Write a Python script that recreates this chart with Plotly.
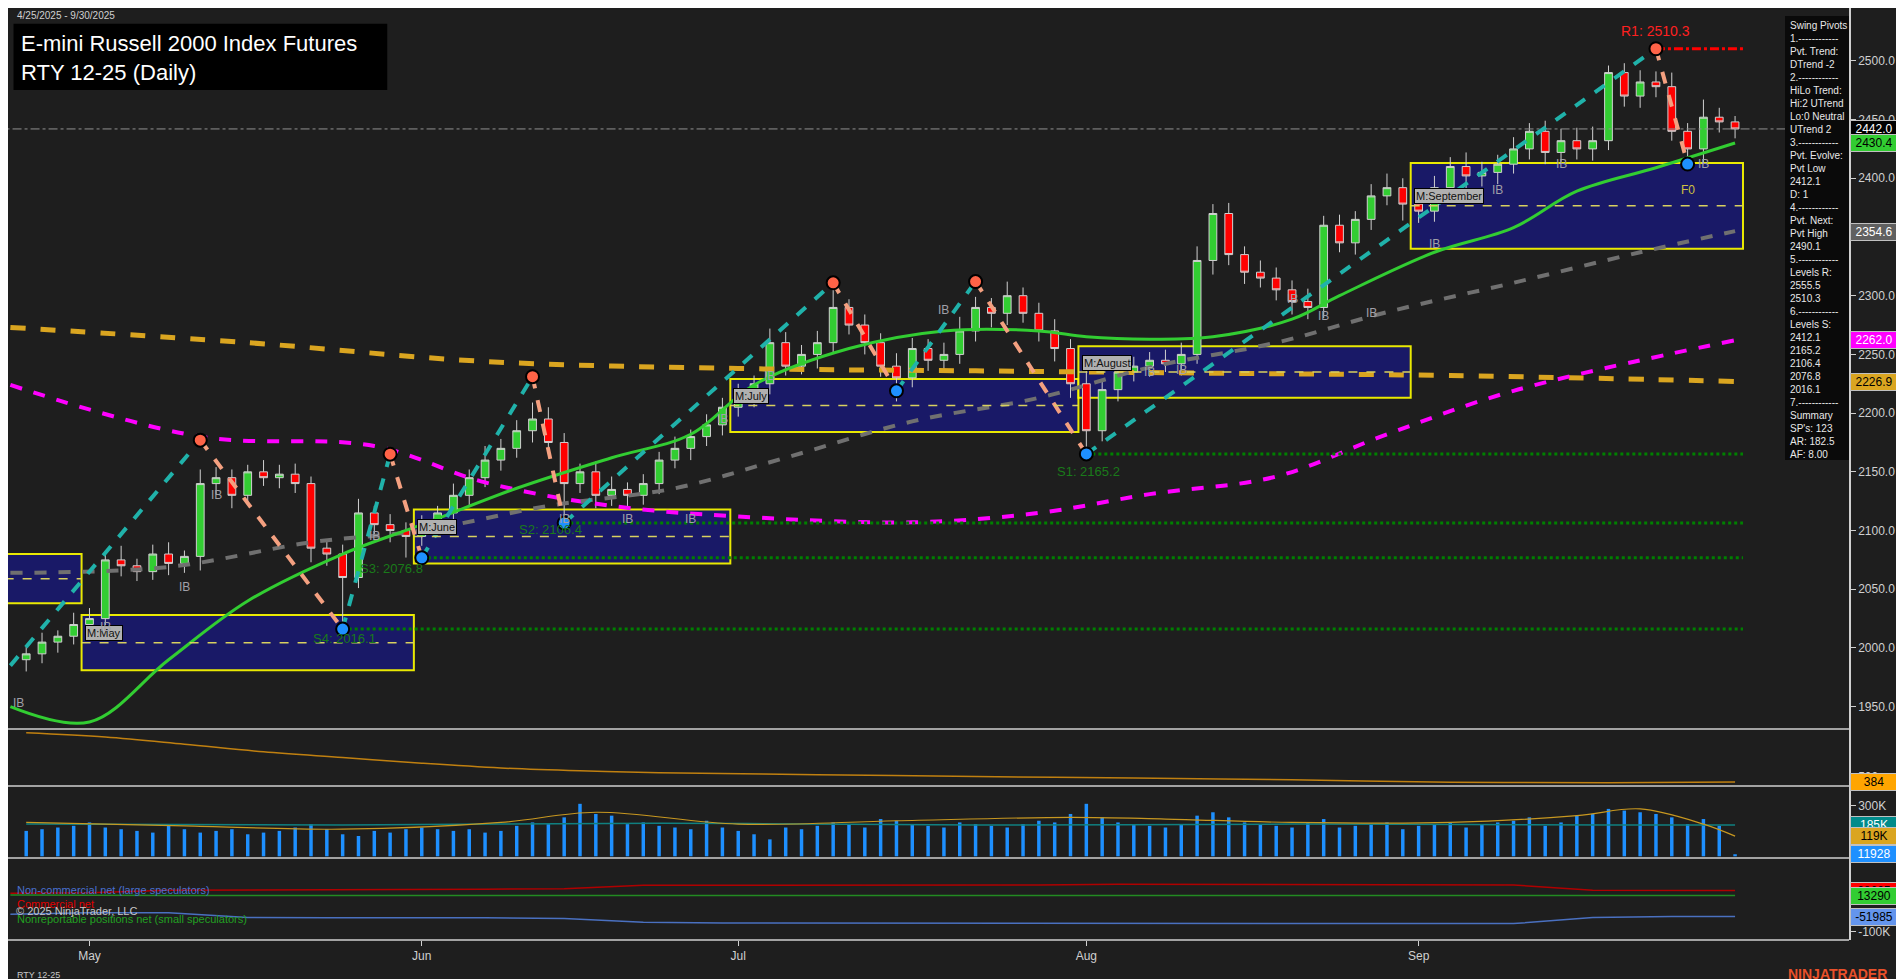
import plotly.graph_objects as go

months = ["Apr"]*4 + ["May"]*21 + ["Jun"]*20 + ["Jul"]*22 + ["Aug"]*21 + ["Sep"]*21
closes = [1995, 2005, 2010, 2020,
          2025, 2075, 2070, 2065, 2080, 2072, 2078, 2140, 2145, 2130, 2150, 2145, 2148, 2140, 2085, 2080, 2060, 2115, 2105, 2100, 2095,
          2105, 2115, 2130, 2145, 2160, 2170, 2185, 2195, 2175, 2140, 2150, 2130, 2135, 2130, 2140, 2160, 2170, 2180, 2190, 2205,
          2215, 2225, 2260, 2240, 2250, 2260, 2290, 2275, 2260, 2240, 2230, 2255, 2245, 2250, 2270, 2290, 2285, 2300, 2285, 2270, 2255, 2225,
          2185, 2220, 2235, 2240, 2245, 2242, 2250, 2330, 2370, 2335, 2320, 2315, 2305, 2295, 2290, 2360, 2345, 2365, 2385, 2392, 2378,
          2372, 2392, 2410, 2402, 2405, 2412, 2425, 2440, 2422, 2432, 2425, 2432, 2490, 2470, 2482, 2478, 2440, 2425, 2452, 2448, 2442]
wick_up = [6, 8, 5, 10, 9, 7, 12, 6, 8, 10, 5, 12, 9, 7, 6, 10, 8, 9, 6, 7, 8, 12, 6, 9, 7,
           8, 6, 10, 7, 12, 8, 9, 14, 10, 8, 7, 9, 11, 6, 8, 7, 10, 6, 9, 8,
           10, 7, 12, 9, 8, 10, 18, 7, 9, 8, 11, 9, 8, 10, 12, 9, 8, 12, 7, 9, 10, 8,
           12, 9, 10, 8, 7, 9, 10, 12, 8, 9, 7, 10, 9, 8, 11, 8, 9, 7, 10, 12, 8,
           9, 10, 8, 12, 9, 8, 10, 7, 9, 10, 11, 12, 6, 8, 10, 9, 12, 7, 15, 8, 5]
wick_dn = [10, 8, 9, 7, 12, 6, 9, 8, 7, 10, 8, 12, 9, 11, 8, 7, 9, 8, 12, 10, 44, 9, 8, 10, 18,
           8, 9, 7, 10, 8, 9, 8, 10, 9, 34, 8, 11, 9, 10, 8, 9, 7, 10, 8, 9,
           8, 10, 9, 8, 7, 12, 9, 8, 10, 9, 20, 8, 9, 10, 8, 9, 12, 10, 8, 9, 11, 12,
           20, 9, 10, 8, 9, 7, 10, 8, 12, 9, 10, 8, 9, 11, 10, 9, 8, 10, 9, 8, 14,
           10, 9, 8, 11, 9, 10, 8, 9, 10, 8, 9, 10, 8, 9, 10, 9, 8, 12, 13, 9, 8]
opens = [1990] + closes[:-1]
highs = [max(o, c) + w for o, c, w in zip(opens, closes, wick_up)]
lows = [min(o, c) - w for o, c, w in zip(opens, closes, wick_dn)]
idx = list(range(len(closes)))

ema_fast = [(-1, 1950), (4, 1937), (9, 1990), (14, 2040), (20, 2080), (25, 2105), (31, 2136), (37, 2162), (42, 2182), (46, 2224),
            (52, 2255), (58, 2270), (64, 2270), (67, 2265), (71, 2263), (75, 2265), (80, 2280), (83, 2300), (89, 2337), (94, 2358), (98, 2389), (103, 2409), (108, 2430)]
ma_grey = [(-1, 2064), (9, 2069), (18, 2090), (25, 2100), (33, 2121), (41, 2136), (48, 2162), (56, 2193), (64, 2213), (71, 2239), (79, 2260), (86, 2286), (94, 2311), (102, 2337), (108, 2355)]
ma_mag = [(-1, 2224), (11, 2180), (22, 2172), (29, 2141), (37, 2121), (45, 2112), (56, 2107), (64, 2115), (71, 2131), (79, 2146), (86, 2182), (94, 2219), (108, 2262)]
ma_orange = [(-1, 2273), (14, 2260), (29, 2244), (45, 2238), (60, 2236), (75, 2234), (90, 2232), (108, 2227)]

pivots = [(-1, 1985), (11, 2177), (20, 2016.1), (23, 2165), (25, 2076.8), (32, 2231), (34, 2106.4), (51, 2311), (55, 2219), (60, 2312), (67, 2165.2), (103, 2510.3), (105, 2412.1)]

boxes = [(-2, 3, 2038, 2080, ""), (4, 24, 1981, 2028, "M:May"), (25, 44, 2072, 2118, "M:June"), (45, 66, 2184, 2229, "M:July"),
         (67, 87, 2213, 2257, "M:August"), (88, 108, 2340, 2413, "M:September")]
supports = [(67, 2165.2), (34, 2106.4), (25, 2076.8), (20, 2016.1)]
r1 = (103, 2510.3)

bars_ct = [(0, 1420), (5, 1330), (10, 1180), (15, 1020), (20, 900), (25, 780), (30, 680), (35, 620), (40, 580), (50, 540), (60, 500), (70, 470), (80, 430), (90, 380), (100, 370), (108, 384)]
volume = [150, 160, 170, 180,
          200, 170, 160, 150, 140, 180, 160, 140, 150, 160, 130, 140, 150, 170, 190, 160, 130, 120, 150, 140, 160,
          170, 160, 150, 160, 140, 150, 180, 200, 190, 230, 310, 250, 240, 190, 200, 180, 170, 160, 210, 170,
          150, 130, 100, 170, 160, 180, 200, 190, 170, 220, 210, 190, 180, 170, 200, 190, 180, 170, 190, 210, 200, 250,
          310, 230, 200, 190, 180, 170, 190, 240, 260, 230, 200, 190, 180, 170, 200, 220, 170, 180, 190, 200, 160,
          180, 190, 200, 170, 190, 200, 210, 230, 180, 200, 240, 250, 280, 270, 260, 250, 230, 190, 220, 180, 12]
vol_avg = [(0, 200), (10, 180), (20, 160), (30, 200), (36, 260), (45, 190), (55, 210), (66, 230), (72, 220), (80, 200), (90, 200), (98, 240), (102, 280), (106, 190), (108, 119)]
vol_teal = [(0, 190), (20, 185), (40, 195), (60, 185), (80, 190), (100, 185), (108, 185)]
cot_weeks = [-1, 4, 9, 14, 19, 24, 29, 34, 39, 44, 49, 54, 59, 64, 69, 74, 79, 84, 89, 94, 99, 104, 108]
cot_comm = [20000, 22000, 30000, 30000, 32000, 32000, 33000, 34000, 45000, 45000, 46000, 46000, 46000, 46000, 48000, 48000, 48000, 48000, 47000, 46000, 30000, 28605, 28605]
cot_noncomm = [-45000, -40000, -40000, -55000, -56000, -55000, -56000, -58000, -70000, -72000, -72000, -72000, -72000, -72000, -74000, -74000, -74000, -74000, -74000, -74000, -55000, -51985, -51985]
cot_small = [15000, 13000, 13000, 13000, 13000, 13000, 13000, 13000, 12000, 12000, 12000, 12000, 12000, 12000, 12500, 12500, 12500, 13000, 13000, 13000, 13290, 13290, 13290]

month_ticks = [4, 25, 45, 67, 88]
month_labels = ["May", "Jun", "Jul", "Aug", "Sep"]

BG = "#1e1e1e"
FONT = "Liberation Sans, Arial, sans-serif"
RM = 63
PW = 1904 - RM
fig = go.Figure()

def xs(pts): return [p[0] for p in pts]
def ys(pts): return [p[1] for p in pts]

fig.add_trace(go.Scatter(x=xs(ma_orange), y=ys(ma_orange), mode="lines", line=dict(color="#daa520", width=5, dash="dash", shape="spline")))
fig.add_trace(go.Scatter(x=xs(ma_mag), y=ys(ma_mag), mode="lines", line=dict(color="#ff00ff", width=4, dash="dash", shape="spline")))
fig.add_trace(go.Scatter(x=xs(ma_grey), y=ys(ma_grey), mode="lines", line=dict(color="#707070", width=4, dash="dash", shape="spline")))

for (a, b, lo, hi, lab) in boxes:
    fig.add_shape(type="rect", x0=a - 0.5, x1=b + 0.5, y0=lo, y1=hi, line=dict(color="#ffff00", width=2), fillcolor="#191970", opacity=0.9, layer="below")
    fig.add_shape(type="line", x0=a - 0.5, x1=b + 0.5, y0=(lo + hi) / 2, y1=(lo + hi) / 2, line=dict(color="#d8d060", width=1.5, dash="dash"))
    if lab:
        fig.add_annotation(x=a - 0.3, y=(lo + hi) / 2 + 8, text=lab, showarrow=False, xanchor="left", font=dict(color="#111", size=11, family=FONT),
                           bgcolor="#b0b0b0", bordercolor="#000", borderwidth=1)

for (a, lvl) in supports:
    fig.add_trace(go.Scatter(x=[a, 108.5], y=[lvl, lvl], mode="lines", line=dict(color="#008000", width=3, dash="dot")))
fig.add_trace(go.Scatter(x=[r1[0], 108.5], y=[r1[1], r1[1]], mode="lines", line=dict(color="#ff0000", width=3, dash="dashdot")))
fig.add_trace(go.Scatter(x=[-2, 116], y=[closes[-1], closes[-1]], mode="lines", line=dict(color="#909090", width=1, dash="dashdot")))

fig.add_trace(go.Scatter(x=xs(ema_fast), y=ys(ema_fast), mode="lines", line=dict(color="#32cd32", width=3, shape="spline")))

fig.add_trace(go.Candlestick(x=idx, open=opens, high=highs, low=lows, close=closes,
                             increasing=dict(line=dict(color="#d0d0d0", width=1), fillcolor="#32cd32"),
                             decreasing=dict(line=dict(color="#d0d0d0", width=1), fillcolor="#ff0000"), whiskerwidth=0))

for i in range(len(pivots) - 1):
    (x0, y0), (x1, y1) = pivots[i], pivots[i + 1]
    up = y1 > y0
    fig.add_trace(go.Scatter(x=[x0, x1], y=[y0, y1], mode="lines", line=dict(color="#20b2aa" if up else "#f4a080", width=4, dash="dash")))
fig.add_trace(go.Scatter(x=xs(pivots[1:]), y=ys(pivots[1:]), mode="markers",
                         marker=dict(size=13, color=["#ff6347" if k % 2 == 0 else "#1e90ff" for k in range(len(pivots) - 1)], line=dict(color="#000", width=2))))

fig.add_annotation(x=103, y=2510.3, yshift=18, text="R1: 2510.3", showarrow=False, font=dict(color="#ff2020", size=14, family=FONT))
for (x, y, t) in [(65, 2150, "S1: 2165.2"), (31, 2101, "S2: 2106.4"), (21, 2068, "S3: 2076.8"), (18, 2008, "S4: 2016.1")]:
    fig.add_annotation(x=x, y=y, text=t, showarrow=False, xanchor="left", font=dict(color="#1a7a1a", size=13, family=FONT))
for (x, y) in [(-0.5, 1953), (12, 2130), (10, 2052), (5, 2018), (22, 2095), (34, 2110), (38, 2110), (42, 2110), (44, 2195), (47, 2232), (58, 2288),
               (71, 2235), (80, 2297), (82, 2283), (85, 2285), (89, 2344), (93, 2390), (97, 2412), (106, 2412), (73, 2237)]:
    fig.add_annotation(x=x, y=y, text="IB", showarrow=False, font=dict(color="#a0a0a8", size=12, family=FONT))
fig.add_annotation(x=105, y=2390, text="F0", showarrow=False, font=dict(color="#d0c040", size=12, family=FONT))

fig.add_trace(go.Scatter(x=xs(bars_ct), y=ys(bars_ct), mode="lines", line=dict(color="#c08010", width=1.5, shape="spline"), xaxis="x2", yaxis="y2"))
fig.add_trace(go.Bar(x=idx, y=[v * 1000 for v in volume], marker=dict(color="#1e90ff", line=dict(width=0)), width=0.22, xaxis="x3", yaxis="y3"))
fig.add_trace(go.Scatter(x=xs(vol_teal), y=[v * 1000 for v in ys(vol_teal)], mode="lines", line=dict(color="#108080", width=1.5, shape="spline"), xaxis="x3", yaxis="y3"))
fig.add_trace(go.Scatter(x=xs(vol_avg), y=[v * 1000 for v in ys(vol_avg)], mode="lines", line=dict(color="#c89820", width=1.2, shape="spline"), xaxis="x3", yaxis="y3"))
fig.add_trace(go.Scatter(x=cot_weeks, y=cot_comm, mode="lines", line=dict(color="#b00000", width=1.5), xaxis="x4", yaxis="y4"))
fig.add_trace(go.Scatter(x=cot_weeks, y=cot_small, mode="lines", line=dict(color="#228b22", width=1.5), xaxis="x4", yaxis="y4"))
fig.add_trace(go.Scatter(x=cot_weeks, y=cot_noncomm, mode="lines", line=dict(color="#4a70c0", width=1.5), xaxis="x4", yaxis="y4"))

XR = [-1.15, 115.2]
axcommon = dict(range=XR, showgrid=False, zeroline=False, showline=False, fixedrange=True)
ycommon = dict(side="right", showgrid=False, zeroline=False, ticks="outside", ticklen=5, tickcolor="#d0d0d0",
               tickfont=dict(color="#d0d0d0", size=12, family=FONT), showline=True, linecolor="#d0d0d0", linewidth=1.5)
fig.update_layout(
    width=1904, height=979, paper_bgcolor=BG, plot_bgcolor=BG, showlegend=False,
    margin=dict(l=0, r=RM, t=0, b=47),
    xaxis=dict(**axcommon, showticklabels=False, rangeslider=dict(visible=False), domain=[0, 1]),
    xaxis2=dict(**axcommon, showticklabels=False, anchor="y2", matches="x"),
    xaxis3=dict(**axcommon, showticklabels=False, anchor="y3", matches="x"),
    xaxis4=dict(**axcommon, anchor="y4", tickvals=month_ticks, ticktext=month_labels, ticks="outside", tickcolor="#d0d0d0",
                tickfont=dict(color="#d0d0d0", size=12, family=FONT), matches="x"),
    yaxis=dict(**ycommon, domain=[0.2264, 1], range=[1931, 2545], tickvals=[1950, 2000, 2050, 2100, 2150, 2200, 2250, 2300, 2350, 2400, 2450, 2500], tickformat=".1f"),
    yaxis2=dict(**ycommon, domain=[0.1652, 0.2264], range=[300, 1500], tickvals=[500]),
    yaxis3=dict(**ycommon, domain=[0.088, 0.1652], range=[-10000, 415000], tickvals=[300000], ticktext=["300K"]),
    yaxis4=dict(**ycommon, domain=[0, 0.088], range=[-125000, 130000], tickvals=[-100000], ticktext=["-100K"]),
)
for yv in [0.2264, 0.1652, 0.088, 0]:
    fig.add_shape(type="line", xref="paper", yref="paper", x0=0, x1=1, y0=yv, y1=yv, line=dict(color="#d0d0d0", width=1.5))

fig.add_shape(type="rect", xref="paper", yref="paper", x0=0.003, x1=0.206, y0=0.912, y1=0.983, fillcolor="#000", line=dict(width=0))
fig.add_annotation(xref="paper", yref="paper", x=0.006, y=0.978, text="E-mini Russell 2000 Index Futures<br>RTY 12-25 (Daily)", align="left",
                   showarrow=False, xanchor="left", yanchor="top", font=dict(color="#fff", size=22, family=FONT))
fig.add_annotation(xref="paper", yref="paper", x=0.004, y=1.0, text="4/25/2025 - 9/30/2025", showarrow=False, xanchor="left", yanchor="top",
                   font=dict(color="#d0d0d0", size=10, family=FONT))

info = ["Swing Pivots", "1.------------", "Pvt. Trend:", "DTrend -2", "2.------------", "HiLo Trend:", "Hi:2 UTrend", "Lo:0 Neutral", "UTrend 2",
        "3.------------", "Pvt. Evolve:", "Pvt Low", "2412.1", "D: 1", "4.------------", "Pvt. Next:", "Pvt High", "2490.1", "5.------------",
        "Levels R:", "2555.5", "2510.3", "6.------------", "Levels S:", "2412.1", "2165.2", "2106.4", "2076.8", "2016.1", "7.------------",
        "Summary", "SP's: 123", "AR: 182.5", "AF: 8.00"]
fig.add_shape(type="rect", xref="paper", yref="paper", x0=1777 / PW, x1=1841 / PW, y0=1 - 452 / 932, y1=1 - 8 / 932, fillcolor="#0a0a0a", line=dict(width=0))
fig.add_annotation(xref="paper", yref="paper", x=1780 / PW, y=1 - 10 / 932, text="<br>".join(info), align="left", showarrow=False,
                   xanchor="left", yanchor="top", font=dict(color="#e8e8e8", size=10, family=FONT))

badges = [("y", 2442.0, "2442.0", "#000", "#fff"), ("y", 2430.4, "2430.4", "#32cd32", "#000"), ("y", 2354.6, "2354.6", "#606060", "#fff"),
          ("y", 2262.0, "2262.0", "#ff00ff", "#fff"), ("y", 2226.9, "2226.9", "#daa520", "#000"), ("y2", 384, "384", "#ffa500", "#000"),
          ("y3", 185000, "185K", "#008b8b", "#fff"), ("y3", 119000, "119K", "#daa520", "#000"), ("y3", 11928, "11928", "#1e90ff", "#fff"),
          ("y4", 28605, "28605", "#ff0000", "#000"), ("y4", 13290, "13290", "#32cd32", "#000"), ("y4", -51985, "-51985", "#6495ed", "#000")]
for (yr, v, t, bg, fc) in badges:
    fig.add_annotation(xref="paper", yref=yr, x=1.0, y=v, text=t, showarrow=False, xanchor="left", xshift=1, bgcolor=bg, bordercolor="#c0c0c0",
                       borderwidth=1, width=44, font=dict(color=fc, size=12, family=FONT))

fig.add_annotation(xref="paper", yref="paper", x=0.004, y=0.062, text="<span style='color:#4a70d0'>Non-commercial net (large speculators)</span><br>"
                   "<span style='color:#e00000'>Commercial net</span><br><span style='color:#22a022'>Nonreportable positions net (small speculators)</span>",
                   align="left", showarrow=False, xanchor="left", yanchor="top", font=dict(size=11, family=FONT))
fig.add_annotation(xref="paper", yref="paper", x=0.003, y=0.022, text="© 2025 NinjaTrader, LLC", showarrow=False, xanchor="left",
                   font=dict(color="#c8c8c8", size=11, family=FONT))
fig.add_annotation(xref="paper", yref="paper", x=0.004, y=-0.038, yanchor="middle", text="RTY 12-25", showarrow=False, xanchor="left",
                   font=dict(color="#c8c8c8", size=9, family=FONT))
fig.add_annotation(xref="paper", yref="paper", x=1.0, xshift=40, y=-0.036, yanchor="middle", xanchor="right", text="<b>NINJATRADER</b>", showarrow=False,
                   font=dict(color="#e8502a", size=14, family=FONT))

fig.write_html("out.html")
